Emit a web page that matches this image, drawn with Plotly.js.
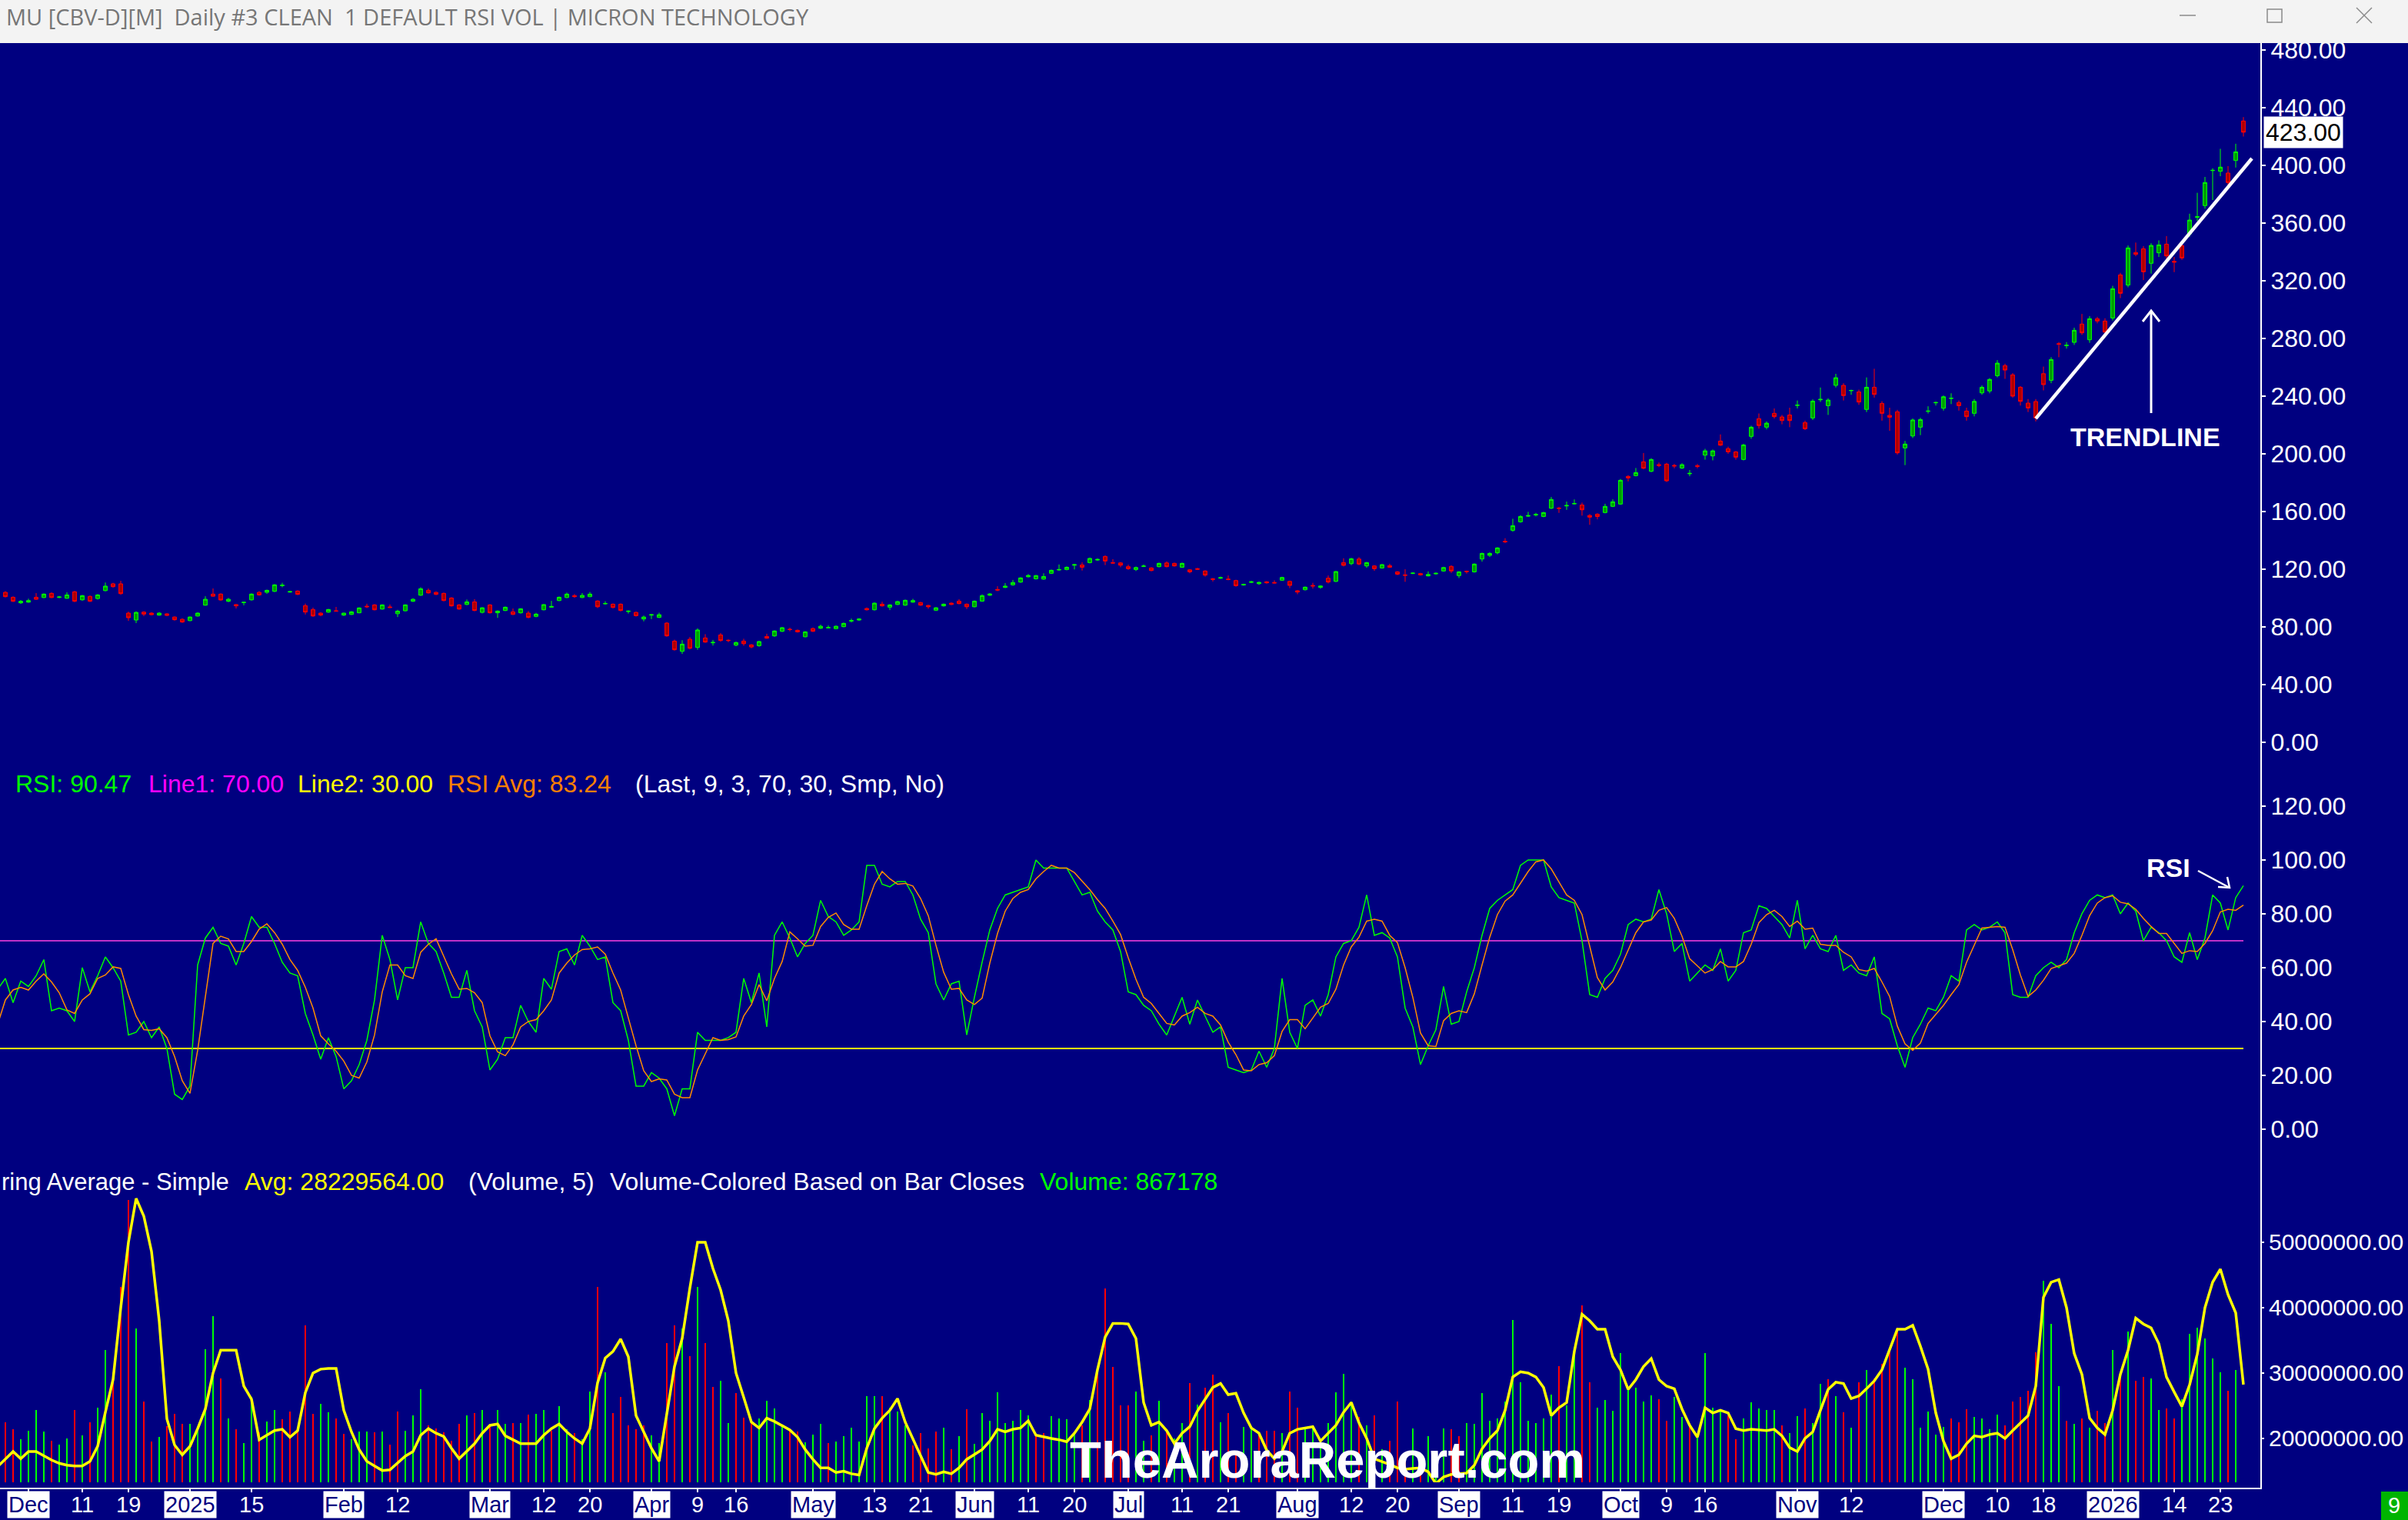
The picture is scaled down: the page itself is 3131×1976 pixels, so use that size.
<!DOCTYPE html>
<html>
<head>
<meta charset="utf-8">
<script src="https://cdn.plot.ly/plotly-3.0.1.min.js"></script>
<style>
html,body{margin:0;padding:0;background:#000080;overflow:hidden;}
#chart{width:3131px;height:1976px;}
</style>
</head>
<body>
<div id="chart"></div>
<script>
// ---------------- DATA ----------------
const startDate = '2024-11-25';
const endDate = '2026-01-28';
const holidays = ['2024-11-28','2024-12-25','2025-01-01','2025-01-09','2025-01-20','2025-02-17','2025-04-18','2025-05-26','2025-06-19','2025-07-04','2025-09-01','2025-11-27','2025-12-25','2026-01-01','2026-01-19'];

const open = [
102.8,104.0,100.6,96.7,97.2,100.6,100.4,103.3,100.5,99.9,
104.4,98.8,101.2,99.7,105.2,109.9,109.9,89.6,84.8,90.3,
89.6,88.2,89.1,86.9,85.3,84.4,87.6,95.1,102.8,102.8,
97.8,95.5,96.9,98.8,104.0,104.0,104.7,108.6,104.2,104.9,
94.8,92.1,89.6,90.3,91.2,88.2,88.7,89.8,94.4,95.3,
92.4,93.9,89.2,91.2,97.8,102.0,105.4,104.0,103.3,100.1,
95.3,95.6,97.4,90.1,95.3,89.8,91.4,90.5,89.8,89.6,
87.3,91.9,93.7,98.3,100.4,101.7,100.4,101.0,98.0,96.0,
95.8,95.8,90.7,90.1,85.5,88.2,86.6,82.7,70.2,63.1,
71.5,65.8,72.4,69.0,74.5,70.8,67.4,70.2,67.6,67.0,
73.4,73.8,77.0,78.4,77.7,73.2,78.9,79.1,79.4,78.8,
80.2,84.1,84.8,92.8,91.9,95.8,93.7,95.6,95.1,97.2,
96.9,94.9,91.6,94.6,96.5,97.9,95.8,94.0,97.9,102.0,
106.0,107.4,109.2,111.1,114.8,113.4,113.2,117.2,119.5,119.8,
122.8,123.0,124.6,126.4,128.9,124.6,124.4,121.8,119.8,122.0,
120.9,121.8,124.4,124.1,121.4,119.6,120.4,118.8,113.4,113.8,
113.2,112.2,109.1,110.9,110.0,111.3,110.8,112.4,111.6,105.1,
105.8,108.8,107.4,113.8,111.6,124.6,123.9,127.1,122.3,122.3,
120.9,122.5,118.2,116.1,117.2,117.0,115.4,116.8,118.8,122.0,
115.6,118.6,118.2,127.1,129.6,131.4,139.4,147.0,152.9,156.8,
157.6,156.6,162.3,162.4,163.9,165.3,164.6,157.3,158.2,159.3,
163.6,165.2,184.4,184.9,194.5,187.9,192.5,192.9,192.0,190.2,
186.2,191.8,199.1,198.6,208.9,203.6,201.4,196.1,212.1,224.4,
218.5,228.1,225.6,227.0,233.6,221.7,224.9,237.5,233.4,247.5,
247.5,243.8,243.0,230.8,246.2,235.0,226.7,229.2,204.1,212.4,
218.5,229.5,235.4,231.6,238.4,235.6,229.7,228.1,242.3,243.6,
254.2,261.2,254.8,246.2,235.2,236.3,255.6,251.0,276.4,275.0,
277.3,290.0,279.1,293.7,292.1,294.2,324.1,317.0,339.6,342.2,
332.1,339.4,345.4,333.5,344.4,352.5,364.0,372.1,396.4,395.9,
394.7,403.4,430.8];

const high = [
105.0,104.8,101.2,98.7,99.6,103.5,103.3,104.0,101.5,104.0,
105.0,102.2,101.8,102.8,110.8,110.6,112.0,90.6,90.8,90.9,
90.2,90.2,89.5,87.3,86.0,87.3,90.1,101.3,106.7,103.3,
100.1,95.9,97.2,103.3,104.8,105.9,109.7,110.6,104.9,105.4,
96.2,93.4,90.2,92.5,93.9,89.9,91.0,93.6,96.1,95.8,
95.7,95.6,91.9,95.7,99.9,107.5,106.7,104.6,103.8,100.6,
95.8,99.0,99.3,93.7,95.8,91.5,94.2,92.8,93.0,91.0,
89.8,95.9,98.1,101.1,103.8,102.8,103.5,104.2,98.5,97.8,
96.3,96.3,91.6,90.6,87.9,88.9,89.9,83.3,71.2,70.8,
73.0,79.0,75.0,71.0,75.8,71.4,69.9,71.8,68.1,70.4,
75.3,77.7,80.0,79.5,78.2,77.1,79.6,81.6,81.1,81.0,
83.0,85.8,86.1,93.5,97.0,97.5,95.8,98.1,99.0,99.5,
97.4,95.3,93.8,96.3,97.0,99.3,96.3,98.4,102.6,103.5,
108.2,110.4,112.6,114.5,116.6,116.1,117.2,119.8,123.3,122.0,
123.7,124.8,128.1,127.5,129.6,127.0,125.0,123.2,121.9,123.3,
121.4,124.6,125.5,124.6,124.6,120.1,121.0,119.3,114.0,114.9,
115.7,112.7,110.0,112.0,111.5,111.8,112.3,114.8,112.1,105.6,
108.1,110.6,108.9,115.7,118.9,127.6,127.9,128.4,125.1,122.8,
123.7,123.8,118.7,120.0,117.8,117.5,118.5,117.8,121.7,122.8,
118.7,119.1,124.1,131.5,131.8,135.3,141.5,155.0,157.5,159.8,
159.1,159.8,170.1,163.3,166.9,168.4,166.2,158.2,158.8,165.4,
168.5,182.6,185.2,190.2,200.6,197.0,194.0,193.8,193.0,193.5,
188.8,193.0,203.5,203.0,213.5,205.0,202.0,207.0,219.5,228.0,
222.5,231.5,227.0,232.0,237.0,223.0,237.8,246.0,238.5,255.5,
249.0,244.5,244.5,253.0,259.0,236.5,232.0,230.5,209.0,224.5,
225.0,233.0,236.2,240.5,242.0,237.0,232.0,238.0,247.5,252.5,
265.0,262.5,256.0,247.0,238.0,238.0,260.5,267.0,277.5,277.5,
287.5,297.0,295.5,295.0,294.0,316.5,325.5,344.5,346.5,344.0,
346.0,348.0,351.0,336.5,346.0,366.5,381.0,392.0,398.0,411.5,
399.5,415.0,433.5];

const low = [
102.0,100.5,97.3,96.0,96.8,98.8,100.0,100.0,99.9,99.5,
97.2,98.2,97.3,99.0,104.7,107.3,102.4,84.2,82.7,87.5,
88.0,87.8,87.5,84.4,82.8,84.0,87.2,94.8,101.0,98.2,
97.2,92.8,95.0,98.3,101.7,103.0,104.2,107.5,103.7,102.1,
88.6,87.0,87.4,89.8,90.5,87.6,88.3,89.5,93.1,91.5,
92.0,93.2,86.9,90.8,97.3,101.6,103.1,102.0,97.8,94.1,
91.9,95.1,90.9,89.4,89.3,86.3,91.0,88.2,89.3,86.0,
86.7,91.5,93.4,97.9,100.0,100.2,100.0,100.6,93.1,95.5,
92.9,90.8,89.3,87.2,83.9,85.5,86.2,73.2,63.6,61.3,
64.5,64.2,69.0,67.1,69.8,69.5,66.6,67.0,65.2,66.3,
71.8,73.2,76.5,77.0,76.1,72.8,76.5,78.6,79.0,78.4,
79.8,83.1,84.3,91.4,91.4,94.1,91.7,95.2,94.7,96.8,
94.6,92.6,91.0,94.1,95.1,95.7,92.4,93.6,97.5,101.5,
104.8,106.9,108.6,110.6,114.3,112.9,112.7,116.7,119.0,119.3,
119.9,119.1,124.1,125.9,122.9,124.0,121.4,119.6,118.8,121.5,
118.6,121.3,121.3,121.8,121.0,117.2,119.5,114.9,111.5,113.3,
112.4,107.9,108.6,110.4,109.2,110.0,110.1,111.9,106.9,102.7,
105.3,106.6,106.5,110.2,111.1,122.0,122.9,122.8,121.0,118.9,
120.4,121.0,115.9,111.3,116.6,115.6,115.0,116.3,118.3,117.4,
113.9,117.0,117.7,125.3,128.5,130.4,138.1,146.0,152.3,156.3,
156.6,156.1,161.8,159.1,161.2,164.9,157.2,150.8,154.6,158.8,
163.1,164.7,180.9,184.4,189.4,187.3,190.8,180.5,190.0,189.5,
184.5,190.0,196.0,195.5,205.5,200.0,196.0,195.5,210.5,217.5,
217.0,224.5,220.5,218.5,231.5,216.5,223.5,236.0,227.0,246.0,
237.0,241.0,234.0,229.0,239.0,223.0,216.0,199.5,192.2,211.0,
213.0,228.0,233.5,230.0,234.5,230.0,223.0,226.0,241.0,242.0,
253.0,252.0,239.0,233.5,229.0,222.5,244.0,249.0,267.0,273.0,
275.5,282.5,277.0,290.5,283.5,292.5,308.0,315.5,337.0,320.5,
325.0,336.5,334.5,326.0,334.5,350.5,361.5,370.0,376.0,392.5,
386.5,398.5,420.0];

const close = [
104.0,101.0,97.8,97.8,98.3,99.2,102.8,100.4,100.8,102.2,
97.8,101.7,97.8,102.2,108.3,107.9,103.1,86.4,90.1,88.9,
88.5,89.6,88.0,85.0,83.4,86.9,89.6,99.2,101.3,98.7,
99.2,94.6,97.1,102.8,102.2,105.4,109.2,109.0,104.5,102.6,
90.3,87.6,88.2,92.1,91.0,89.6,90.5,93.2,94.0,91.9,
95.3,93.5,91.0,95.3,99.2,106.5,103.6,102.6,98.3,94.6,
92.4,97.4,91.4,93.3,89.8,91.0,93.7,88.7,92.6,86.6,
88.9,95.5,94.2,100.6,102.8,101.0,101.9,102.8,94.0,96.3,
93.5,91.4,91.0,87.8,86.9,88.5,88.5,73.8,64.2,68.1,
65.2,77.9,69.5,69.3,70.6,70.6,69.2,68.4,66.1,69.9,
72.2,77.2,79.5,78.2,76.6,76.6,77.0,80.5,79.6,80.5,
82.5,84.4,85.5,91.9,96.5,94.6,95.3,97.6,98.5,98.3,
95.1,94.0,93.3,95.8,95.6,96.2,94.0,97.9,101.7,102.9,
105.6,108.3,110.8,114.0,115.7,115.6,115.0,119.3,119.8,121.4,
123.2,121.4,127.5,126.8,125.7,124.3,122.8,120.4,121.2,122.2,
119.1,124.1,121.8,122.3,124.1,118.2,120.0,115.9,113.0,114.2,
112.9,108.6,109.5,111.3,110.9,110.6,110.5,114.3,108.8,104.2,
107.6,108.4,108.4,111.1,118.4,122.7,127.3,123.6,124.6,120.4,
123.2,121.4,116.6,115.8,117.3,116.1,116.4,117.2,121.2,118.8,
118.2,118.4,123.6,131.0,131.0,134.8,139.0,150.2,156.6,157.2,
158.0,159.3,168.4,162.2,164.2,165.6,161.2,156.1,156.6,163.6,
166.8,181.7,183.3,187.0,190.0,196.1,192.0,181.3,191.6,192.5,
186.5,191.4,202.1,202.1,206.0,201.4,197.7,206.2,218.5,219.6,
221.3,225.8,223.1,223.1,233.8,217.4,236.6,237.8,237.3,252.8,
240.4,244.0,235.9,246.2,241.2,228.1,225.4,200.7,206.8,223.5,
223.8,229.7,235.6,239.6,238.6,233.4,225.8,236.4,246.2,251.6,
262.9,258.1,240.0,236.4,231.8,224.9,248.0,265.4,276.0,275.3,
285.7,283.9,293.7,292.1,284.4,314.5,311.3,342.8,338.3,326.2,
344.5,344.9,337.2,332.9,335.8,362.1,364.4,388.1,396.6,398.8,
388.1,409.4,423.0];

const rsi = [
52,56,47,55,53,57,63,44,45,44,
40,60,51,57,64,60,55,35,36,40,
34,38,30,13,11,16,61,71,75,69,
68,61,69,79,75,75,69,62,58,57,
43,35,26,34,27,15,18,24,33,48,
72,63,48,60,60,77,69,66,58,49,
49,59,44,38,22,26,34,34,46,40,
36,56,52,66,67,61,72,68,63,64,
47,44,33,16,16,21,19,15,5,15,
15,36,33,33,33,34,36,56,47,58,
38,72,77,71,64,69,72,85,79,77,
72,74,77,98,98,91,90,92,92,87,
78,73,54,48,54,55,35,49,62,74,
82,87,88,89,90,100,97,97,97,97,
92,87,88,81,77,74,66,51,50,46,
44,39,35,42,49,39,48,42,36,38,
23,22,21,22,29,23,30,56,36,30,
46,48,42,50,64,69,70,75,87,72,
73,71,64,45,38,24,31,37,53,39,
40,51,60,72,82,85,87,89,98,100,
100,100,90,86,85,84,70,50,49,56,
59,65,76,78,77,78,89,80,66,69,
55,58,61,59,67,55,59,73,74,83,
82,79,76,71,85,67,72,67,66,72,
59,61,58,57,64,43,41,31,23,34,
39,45,44,49,57,55,74,76,74,75,
77,73,50,49,49,57,60,62,60,63,
73,80,85,87,86,87,80,84,81,70,
75,73,70,64,62,73,63,71,87,84,
74,86,90.47];

const rsiAvg = [
39,48,51.7,52.7,51.7,55,57.7,54.7,50.7,44.3,
43,48,50.3,56,57.3,60.3,59.7,50,42,37,
36.7,37.3,34,27,18,13.3,29.3,49.3,69,71.7,
70.7,66,66,69.7,74.3,76.3,73,68.7,63,59,
52.7,45,34.7,31.7,29,25.3,20,19,25,35,
51,61,61,57,56,65.7,68.7,70.7,64.3,57.7,
52,52.3,50.7,47,34.7,28.7,27.3,31.3,38,40,
40.7,44,48,58,61.7,64.7,66.7,67,67.7,65,
58,51.7,41.3,31,21.7,17.7,18.7,18.3,13,11.7,
11.7,22,28,34,33,33.3,34.3,42,46.3,53.7,
47.7,56,62.3,73.3,70.7,68,68.3,75.3,78.7,80.3,
76,74.3,74.3,83,91,95.7,93,91,91.3,90.3,
85.7,79.3,68.3,58.3,52,52.3,48,46.3,48.7,61.7,
72.7,81,85.7,88,89,93,95.7,98,97,97,
95.3,92,89,85.3,82,77.3,72.3,63.7,55.7,49,
46.7,43,39.3,38.7,42,43.3,45.3,43,42,38.7,
32.3,27.7,22,21.7,24,24.7,27.3,36.3,40.7,40.7,
37.3,41.3,45.3,46.7,52,61,67.7,71.3,77.3,78,
77.3,72,69.3,60,49,35.7,31,30.7,40.3,43,
44,43.3,50.3,61,71.3,79.7,84.7,87,91.3,95.7,
99.3,100,96.7,92,87,85,79.7,68,56.3,51.7,
54.7,60,66.7,73,77,77.7,81.3,82.3,78.3,71.7,
63.3,60.7,58,59.3,62.3,60.3,60.3,62.3,68.7,76.7,
79.7,81.3,79,75.3,77.3,74.3,74.7,68.7,68.3,68.3,
65.7,64,59.3,58.7,59.7,54.7,49.3,38.3,31.7,29.3,
32,39.3,42.7,46,50,53.7,62,68.3,74.7,75,
75.3,75,66.7,57.3,49.3,51.7,55.3,59.7,60.7,61.7,
65.3,72,79.3,84,86,86.7,84.3,83.7,81.7,78.3,
75.3,72.7,72.7,69,65.3,66.3,66,69,73.7,80.7,
81.7,81.3,83.24];

// volume in millions of shares
const volumeM = [
21.0,22.5,21.4,19.9,21.2,24.4,21.1,19.6,19.0,20.0,
24.4,20.5,22.5,24.7,33.5,30.1,43.2,56.5,36.8,25.6,
19.5,20.2,21.9,23.8,22.2,22.2,21.3,33.6,38.7,29.2,
23.1,21.4,19.3,26.4,20.9,22.6,24.4,22.9,24.1,21.1,
37.3,23.8,25.3,24.0,23.1,20.7,19.9,21.0,21.0,20.9,
21.1,19.1,24.1,21.2,23.5,27.5,22.0,21.5,20.9,19.7,
22.2,23.5,23.9,24.4,22.2,24.4,22.2,22.3,22.4,23.7,
23.8,24.4,21.2,24.9,21.4,20.8,19.9,27.2,43.2,30.1,
23.9,26.3,22.0,21.4,22.0,20.5,19.3,34.6,37.3,36.8,
32.6,43.2,34.6,27.9,28.8,22.4,26.9,23.2,22.6,23.1,
25.8,24.6,22.0,21.4,21.1,19.4,20.6,22.2,19.3,19.5,
20.4,21.6,19.5,26.5,26.5,26.5,24.7,24.1,22.0,18.9,
20.8,18.5,21.1,21.6,18.4,20.3,24.5,19.2,23.9,22.7,
27.0,22.3,22.7,24.3,23.5,20.6,20.8,23.4,23.1,22.9,
20.8,22.0,25.9,30.9,42.9,30.9,25.0,25.1,27.2,19.6,
20.5,25.8,21.0,20.0,22.4,28.5,25.2,27.8,29.8,22.5,
23.9,17.8,21.8,21.5,20.8,21.2,21.2,20.8,27.2,24.7,
21.4,21.8,19.6,22.4,27.1,29.9,25.7,23.3,22.0,23.5,
18.4,19.6,25.6,17.3,21.5,16.6,20.4,18.0,21.5,21.4,
20.4,22.4,22.2,26.9,22.7,23.1,25.6,38.1,28.6,22.7,
22.4,23.1,26.7,31.0,25.1,33.7,40.3,28.6,24.7,25.9,
24.2,33.1,27.6,27.8,25.7,26.6,26.0,22.7,26.3,23.3,
22.4,20.4,33.1,24.7,24.2,23.5,19.9,23.1,25.5,24.6,
24.3,24.3,22.0,20.8,23.4,24.6,22.4,28.4,29.0,26.5,
24.0,21.6,28.6,30.5,29.2,31.4,33.9,36.9,30.8,29.0,
21.6,24.1,20.6,21.8,23.0,22.5,24.5,23.3,23.1,21.4,
23.7,22.0,25.7,26.4,27.3,33.2,44.1,37.5,28.0,22.7,
22.2,23.1,21.6,24.2,22.4,33.5,29.4,36.4,28.8,29.4,
29.2,24.3,24.6,23.0,26.0,36.0,36.9,35.3,32.2,30.1,
27.3,30.5,0.867178];

// 5-period volume average as drawn (millions)
const volAvgM = [
15.7,16.8,18.0,16.9,18.0,18.0,17.3,16.7,16.2,15.9,
15.8,15.8,16.5,18.8,24.0,29.0,40.0,50.0,56.7,54.0,
48.6,38.0,23.0,19.0,17.5,18.8,21.5,24.5,30.0,33.5,
33.5,33.5,28.0,26.0,19.8,20.5,21.2,21.4,20.2,21.2,
27.0,30.0,30.6,30.7,30.7,24.3,21.0,18.3,16.5,15.8,
15.1,15.2,16.3,17.3,18.0,20.5,21.5,20.8,20.3,18.5,
16.9,18.0,19.2,20.8,22.0,22.2,20.4,19.8,19.2,19.2,
19.2,20.5,21.5,22.2,21.0,20.0,19.2,21.5,28.5,32.3,
33.3,35.2,32.5,23.5,21.0,18.5,16.5,23.5,31.0,35.3,
43.0,50.0,50.0,46.0,42.7,38.0,30.0,26.3,22.5,21.6,
23.1,22.6,22.0,21.3,20.2,18.3,16.8,15.5,15.5,14.8,
15.0,14.6,14.4,18.5,21.5,23.1,24.3,26.1,22.5,20.0,
17.5,14.8,14.5,14.9,14.6,15.5,16.8,17.5,18.3,19.6,
21.4,21.0,21.4,21.6,22.7,20.5,20.2,20.0,19.8,19.5,
20.8,22.5,24.5,30.5,35.5,37.6,37.6,37.5,35.3,25.5,
22.0,22.5,21.2,19.2,20.8,21.8,24.2,26.0,27.8,28.4,
26.7,26.9,23.9,21.6,20.8,18.2,16.9,18.0,20.8,21.4,
21.6,21.8,19.6,20.8,22.0,24.0,25.5,22.4,20.0,16.9,
16.5,16.0,15.5,15.3,15.4,15.5,14.9,13.1,14.1,14.5,
14.6,14.7,15.9,18.4,20.0,21.2,24.3,29.4,30.2,30.0,
29.4,27.8,23.5,24.7,25.5,33.3,39.0,38.0,36.7,36.7,
32.5,30.5,27.5,29.0,31.0,32.2,29.0,28.0,27.6,24.5,
22.0,20.2,24.7,23.9,24.3,23.9,21.5,21.2,21.4,21.3,
21.2,21.4,20.4,18.6,18.0,20.0,21.0,24.3,27.5,28.6,
28.4,26.1,26.5,27.6,28.8,30.5,33.5,36.7,36.7,37.3,
34.1,30.6,23.9,19.6,16.9,17.5,19.2,20.4,20.2,20.6,
20.8,20.0,21.2,22.4,23.5,28.0,41.6,43.9,44.3,40.0,
33.0,29.8,23.1,21.6,20.6,24.3,29.8,33.5,38.4,37.5,
36.9,34.5,29.4,27.1,24.9,28.2,32.9,40.0,43.9,45.9,
42.0,39.2,28.229564];

const rsiLevels = [70, 30];   // Line1, Line2
const tickDates = ['2024-12-02','2024-12-11','2024-12-19','2025-01-02','2025-01-15','2025-02-03','2025-02-12','2025-03-03','2025-03-12','2025-03-20','2025-04-01','2025-04-09','2025-04-16','2025-05-01','2025-05-13','2025-05-21','2025-06-02','2025-06-11','2025-06-20','2025-07-01','2025-07-11','2025-07-21','2025-08-01','2025-08-12','2025-08-20','2025-09-02','2025-09-11','2025-09-19','2025-10-01','2025-10-09','2025-10-16','2025-11-03','2025-11-12','2025-12-01','2025-12-10','2025-12-18','2026-01-02','2026-01-14','2026-01-23'];
const tickLabels = ['Dec','11','19','2025','15','Feb','12','Mar','12','20','Apr','9','16','May','13','21','Jun','11','20','Jul','11','21','Aug','12','20','Sep','11','19','Oct','9','16','Nov','12','Dec','10','18','2026','14','23'];

// hand-drawn trendline (bar index, price)
const trendIdx = [265.0, 293.1];
const trendPrice = [224.5, 404.8];

// ---------------- BUILD ----------------
function tradingDays(s, e, hol) {
  const out = [];
  const d = new Date(s + 'T00:00:00Z');
  const end = new Date(e + 'T00:00:00Z');
  while (d <= end) {
    const wd = d.getUTCDay();
    const iso = d.toISOString().slice(0, 10);
    if (wd !== 0 && wd !== 6 && hol.indexOf(iso) < 0) out.push(iso);
    d.setUTCDate(d.getUTCDate() + 1);
  }
  return out;
}
const dates = tradingDays(startDate, endDate, holidays);
const N = dates.length;

const W = 3131, H = 1976;
const px = x => x / W;
const py = y => 1 - y / H;

const NAVY = '#000080';
const FONT = 'Liberation Sans, Arial, sans-serif';

const volume = volumeM.map(v => v * 1e6);
const volAvg = volAvgM.map(v => v * 1e6);
const volColors = close.map((c, i) => (i === 0 || c >= close[i - 1]) ? '#00ff00' : '#ff0000');

const traces = [
  {
    type: 'candlestick', x: dates, open: open, high: high, low: low, close: close,
    xaxis: 'x', yaxis: 'y',
    increasing: {line: {color: '#00ff00', width: 1}, fillcolor: '#00a000'},
    decreasing: {line: {color: '#ff0000', width: 1}, fillcolor: '#b00000'},
    whiskerwidth: 0, hoverinfo: 'skip', showlegend: false
  },
  {type: 'scatter', mode: 'lines', x: [dates[0], dates[N - 1]], y: [rsiLevels[0], rsiLevels[0]],
   xaxis: 'x', yaxis: 'y2', line: {color: '#c030c8', width: 2}, hoverinfo: 'skip', showlegend: false},
  {type: 'scatter', mode: 'lines', x: [dates[0], dates[N - 1]], y: [rsiLevels[1], rsiLevels[1]],
   xaxis: 'x', yaxis: 'y2', line: {color: '#ffff00', width: 2}, hoverinfo: 'skip', showlegend: false},
  {type: 'scatter', mode: 'lines', x: dates, y: rsi, xaxis: 'x', yaxis: 'y2',
   line: {color: '#00ff00', width: 1.5}, hoverinfo: 'skip', showlegend: false},
  {type: 'scatter', mode: 'lines', x: dates, y: rsiAvg, xaxis: 'x', yaxis: 'y2',
   line: {color: '#ff8c00', width: 1.5}, hoverinfo: 'skip', showlegend: false},
  {type: 'bar', x: dates, y: volume, xaxis: 'x', yaxis: 'y3', width: 0.22,
   marker: {color: volColors, line: {width: 0}}, hoverinfo: 'skip', showlegend: false},
  {type: 'scatter', mode: 'lines', x: dates, y: volAvg, xaxis: 'x', yaxis: 'y3',
   line: {color: '#ffff00', width: 3.5}, hoverinfo: 'skip', showlegend: false}
];

const xRight = 2940;
const axisCommon = {
  side: 'right', anchor: 'x', showgrid: false, zeroline: false, showline: false,
  ticks: 'outside', ticklen: 5, tickwidth: 1.5, tickcolor: '#ffffff',
  tickfont: {family: FONT, size: 32, color: '#ffffff'}, tickformat: '.2f', fixedrange: true
};

const annotations = [];
function addText(text, x, y, color, size, opts) {
  annotations.push(Object.assign({
    text: text, xref: 'paper', yref: 'paper', x: px(x), y: py(y),
    xanchor: 'left', yanchor: 'middle', showarrow: false,
    font: {family: FONT, size: size, color: color}
  }, opts || {}));
}

// window title
addText('MU [CBV-D][M]\u00a0 Daily #3 CLEAN\u00a0 1 DEFAULT RSI VOL | MICRON TECHNOLOGY', 6, 21, '#707070', 29,
  {font: {family: 'Open Sans, Noto Sans, sans-serif', size: 29, color: '#767676'}});

// RSI header
const lastRsi = rsi[N - 1], lastRsiAvg = rsiAvg[N - 1];
addText('RSI: ' + lastRsi.toFixed(2), 18, 1019, '#00ff00', 32);
addText('Line1: ' + rsiLevels[0].toFixed(2), 191, 1019, '#ff00ff', 32);
addText('Line2: ' + rsiLevels[1].toFixed(2), 385, 1019, '#ffff00', 32);
addText('RSI Avg: ' + lastRsiAvg.toFixed(2), 580, 1019, '#ff8000', 32);
addText('(Last, 9, 3, 70, 30, Smp, No)', 824, 1019, '#ffffff', 32);

// Volume header (the study name is scrolled off the left edge in the reference)
addText('ring Average - Simple', 0, 1536, '#ffffff', 31);
addText('Avg: ' + volAvg[N - 1].toFixed(2), 316, 1536, '#ffff00', 32);
addText('(Volume, 5)', 607, 1536, '#ffffff', 32);
addText('Volume-Colored Based on Bar Closes', 791, 1536, '#ffffff', 32);
addText('Volume: ' + Math.round(volume[N - 1]), 1350, 1536, '#00ff00', 32);

// watermark
addText('<b>TheAroraReport.com</b>', 1726, 1897, '#ffffff', 67,
  {xanchor: 'center', font: {family: FONT, size: 67, color: '#ffffff'}});

// TRENDLINE & RSI callouts
addText('<b>TRENDLINE</b>', 2789, 568, '#ffffff', 34, {xanchor: 'center', font: {family: FONT, size: 34, color: '#ffffff'}});
addText('<b>RSI</b>', 2819, 1128, '#ffffff', 34, {xanchor: 'center', font: {family: FONT, size: 34, color: '#ffffff'}});

// last price tag
annotations.push({
  text: close[N - 1].toFixed(2), xref: 'paper', yref: 'y', x: px(2943), y: close[N - 1],
  xanchor: 'left', yanchor: 'middle', showarrow: false, bgcolor: '#ffffff', borderpad: 2,
  font: {family: FONT, size: 32, color: '#000000'}
});

// time axis labels (month / year labels boxed)
const isBoxed = t => isNaN(+t) || t.length === 4;
tickDates.forEach((d, i) => {
  const boxed = isBoxed(tickLabels[i]);
  annotations.push({
    text: tickLabels[i], xref: 'x', yref: 'paper', x: d, y: py(1956),
    xanchor: 'center', yanchor: 'middle', showarrow: false,
    bgcolor: boxed ? '#ffffff' : 'rgba(0,0,0,0)', borderpad: 1,
    font: {family: FONT, size: 29, color: boxed ? NAVY : '#ffffff'}
  });
});

// green corner box text
addText('9', 3113, 1957, '#ffffff', 29, {xanchor: 'center'});

const shapes = [
  // title bar
  {type: 'rect', xref: 'paper', yref: 'paper', x0: 0, x1: 1, y0: py(56), y1: 1, fillcolor: '#f3f3f3', line: {width: 0}, layer: 'above'},
  {type: 'line', xref: 'paper', yref: 'paper', x0: px(2834), x1: px(2855), y0: py(20), y1: py(20), line: {color: '#8a8a8a', width: 1.5}, layer: 'above'},
  {type: 'rect', xref: 'paper', yref: 'paper', x0: px(2948), x1: px(2967), y0: py(29), y1: py(12), line: {color: '#8a8a8a', width: 1.5}, layer: 'above'},
  {type: 'line', xref: 'paper', yref: 'paper', x0: px(3064), x1: px(3084), y0: py(10), y1: py(30), line: {color: '#8a8a8a', width: 1.5}, layer: 'above'},
  {type: 'line', xref: 'paper', yref: 'paper', x0: px(3064), x1: px(3084), y0: py(30), y1: py(10), line: {color: '#8a8a8a', width: 1.5}, layer: 'above'},
  // right axis line
  {type: 'line', xref: 'paper', yref: 'paper', x0: px(xRight), x1: px(xRight), y0: py(56), y1: py(1936), line: {color: '#ffffff', width: 2}, layer: 'above'},
  // trendline
  {type: 'line', xref: 'x', yref: 'y', x0: trendIdx[0], x1: trendIdx[1], y0: trendPrice[0], y1: trendPrice[1], line: {color: '#ffffff', width: 4.5}, layer: 'above'},
  // up arrow under trendline
  {type: 'path', xref: 'paper', yref: 'paper', path: 'M' + px(2797) + ',' + py(537) + ' L' + px(2797) + ',' + py(405),
   line: {color: '#ffffff', width: 3}, layer: 'above'},
  {type: 'path', xref: 'paper', yref: 'paper', path: 'M' + px(2786) + ',' + py(418) + ' L' + px(2797) + ',' + py(404) + ' L' + px(2808) + ',' + py(418),
   line: {color: '#ffffff', width: 3}, layer: 'above'},
  // RSI arrow
  {type: 'path', xref: 'paper', yref: 'paper', path: 'M' + px(2858) + ',' + py(1132) + ' L' + px(2899) + ',' + py(1154),
   line: {color: '#ffffff', width: 2.5}, layer: 'above'},
  {type: 'path', xref: 'paper', yref: 'paper', path: 'M' + px(2884) + ',' + py(1153) + ' L' + px(2899) + ',' + py(1154) + ' L' + px(2896) + ',' + py(1140),
   line: {color: '#ffffff', width: 2.5}, layer: 'above'},
  // green corner box
  {type: 'rect', xref: 'paper', yref: 'paper', x0: px(3096), x1: 1, y0: 0, y1: py(1939), fillcolor: '#00b400', line: {width: 0}, layer: 'below'}
];

const layout = {
  width: W, height: H,
  margin: {l: 0, r: 0, t: 0, b: 0, pad: 0},
  paper_bgcolor: NAVY, plot_bgcolor: NAVY,
  showlegend: false, dragmode: false,
  xaxis: {
    type: 'category', domain: [0, px(xRight)], anchor: 'free', position: py(1935),
    range: [0.3, 294.3], rangeslider: {visible: false},
    showgrid: false, zeroline: false, showline: true, linecolor: '#ffffff', linewidth: 2,
    ticks: 'outside', ticklen: 4, tickwidth: 1.5, tickcolor: '#ffffff',
    tickmode: 'array', tickvals: tickDates, ticktext: tickDates.map(() => ' '),
    showticklabels: true, tickfont: {family: FONT, size: 10, color: NAVY}, fixedrange: true
  },
  yaxis: Object.assign({}, axisCommon, {domain: [py(990), py(56)], range: [-13.3, 484.8], dtick: 40, tick0: 0}),
  yaxis2: Object.assign({}, axisCommon, {domain: [py(1490), py(1000)], range: [-6.3, 133.7], dtick: 20, tick0: 0}),
  yaxis3: Object.assign({}, axisCommon, {domain: [py(1927), py(1535)], range: [13.29e6, 59.41e6], dtick: 1e7, tick0: 0,
    ticklen: 3, tickfont: {family: FONT, size: 30, color: '#ffffff'}}),
  bargap: 0,
  annotations: annotations,
  shapes: shapes
};

Plotly.newPlot('chart', traces, layout, {displayModeBar: false, staticPlot: true});
</script>
</body>
</html>
